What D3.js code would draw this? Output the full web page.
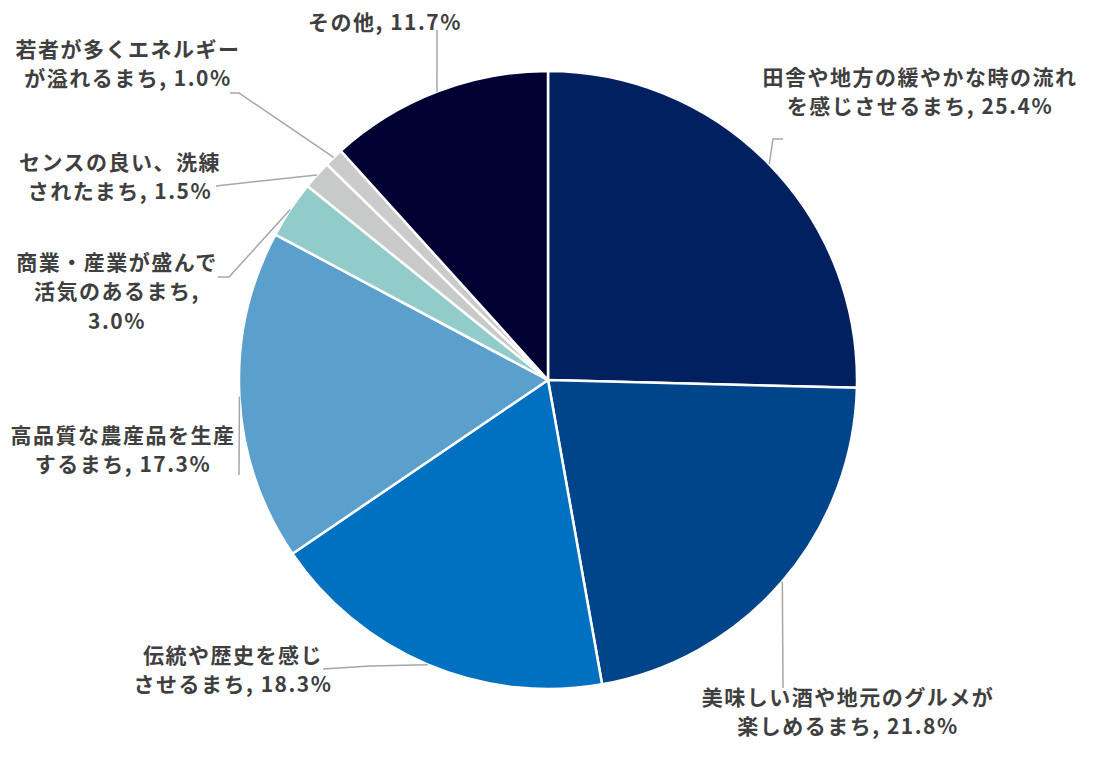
<!DOCTYPE html>
<html><head><meta charset="utf-8">
<script src="https://cdn.jsdelivr.net/npm/d3@7/dist/d3.min.js"></script>
<style>
html,body{margin:0;padding:0;background:#fff;}
svg{display:block;}
text{font-family:"Noto Sans CJK JP","Noto Sans",sans-serif;font-weight:700;fill:#3F3F3F;}
</style></head>
<body>
<svg id="chart" width="1096" height="760"></svg>
<script>
// Data
const categories = [
  "田舎や地方の緩やかな時の流れを感じさせるまち",
  "美味しい酒や地元のグルメが楽しめるまち",
  "伝統や歴史を感じさせるまち",
  "高品質な農産品を生産するまち",
  "商業・産業が盛んで活気のあるまち",
  "センスの良い、洗練されたまち",
  "若者が多くエネルギーが溢れるまち",
  "その他"
];
const values = [25.4, 21.8, 18.3, 17.3, 3.0, 1.5, 1.0, 11.7];
const labelLines = [
  ["田舎や地方の緩やかな時の流れ", "を感じさせるまち, 25.4%"],
  ["美味しい酒や地元のグルメが", "楽しめるまち, 21.8%"],
  ["伝統や歴史を感じ", "させるまち, 18.3%"],
  ["高品質な農産品を生産", "するまち, 17.3%"],
  ["商業・産業が盛んで", "活気のあるまち,", "3.0%"],
  ["センスの良い、洗練", "されたまち, 1.5%"],
  ["若者が多くエネルギー", "が溢れるまち, 1.0%"],
  ["その他, 11.7%"]
];
const colors = ["#002060", "#00448A", "#0070C0", "#5B9FCD", "#92CCCA", "#C8CACA", "#CBCBCB", "#000033"];

// Layout (label centres and leader elbows)
const labelPos = [
  {x: 920, y: 77}, {x: 848, y: 697}, {x: 233, y: 655}, {x: 123, y: 435},
  {x: 117, y: 262}, {x: 120, y: 162}, {x: 128, y: 49}, {x: 385, y: 22}
];
const leaderEnds = [
  [[773,139],[783,139]],
  [[783,688]],
  [[370,666],[323,669]],
  [[239,475]],
  [[229,277],[218,277]],
  [[216,186]],
  [[239,93],[230,93]],
  [[437,30]]
];

const cx = 548, cy = 380, R = 309;
const svg = d3.select("#chart");
const g = svg.append("g").attr("transform", `translate(${cx},${cy})`);

const pie = d3.pie().sort(null).value(d => d)(values);
const arc = d3.arc().innerRadius(0).outerRadius(R);

g.selectAll("path.slice").data(pie).join("path")
  .attr("class", "slice")
  .attr("d", arc)
  .attr("fill", (d, i) => colors[i])
  .attr("stroke", "#fff")
  .attr("stroke-width", 2.5)
  .attr("stroke-linejoin", "round");

// Leader lines
const line = d3.line();
pie.forEach((d, i) => {
  const a = (d.startAngle + d.endAngle) / 2;
  const p0 = [cx + R * Math.sin(a), cy - R * Math.cos(a)];
  const pts = [p0].concat(leaderEnds[i]);
  svg.append("path")
    .attr("d", line(pts))
    .attr("fill", "none")
    .attr("stroke", "#A6A6A6")
    .attr("stroke-width", 1.5);
});

// Labels
const lh = 29.5;
labelLines.forEach((lines, i) => {
  const t = svg.append("text")
    .attr("text-anchor", "middle")
    .attr("font-size", 21)
    .attr("letter-spacing", 1.5);
  lines.forEach((s, j) => {
    t.append("tspan")
      .attr("x", labelPos[i].x)
      .attr("y", labelPos[i].y + j * lh)
      .attr("dy", "0.36em")
      .text(s);
  });
});
</script>
</body></html>
